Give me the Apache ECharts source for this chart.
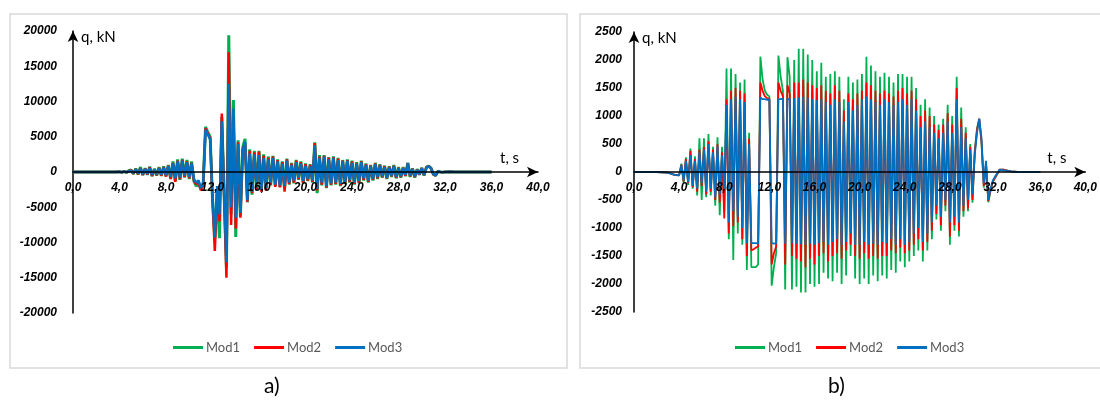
<!DOCTYPE html>
<html>
<head>
<meta charset="utf-8">
<script src="https://cdn.jsdelivr.net/npm/echarts@6/dist/echarts.min.js"></script>
<style>
  html, body { margin: 0; padding: 0; background: #fff; }
  #chart { width: 1100px; height: 403px; }
</style>
</head>
<body>
<div id="chart"></div>
<script>
// time, s (shared by both plots)
const times = [0, 1, 2, 3, 3.6,
  4.0, 4.2, 4.4, 4.6, 4.8,   5.0, 5.2, 5.4, 5.6, 5.8,
  6.0, 6.2, 6.4, 6.6, 6.8,   7.0, 7.2, 7.4, 7.6, 7.8,
  8.0, 8.2, 8.4, 8.6, 8.8,   9.0, 9.2, 9.4, 9.6, 9.8,
  10.0, 10.2, 10.4, 10.6, 10.8,   11.0, 11.2, 11.4, 11.6, 11.8,
  12.0, 12.2, 12.4, 12.6, 12.8,   13.0, 13.2, 13.4, 13.6, 13.8,
  14.0, 14.2, 14.4, 14.6, 14.8,   15.0, 15.2, 15.4, 15.6, 15.8,
  16.0, 16.2, 16.4, 16.6, 16.8,   17.0, 17.2, 17.4, 17.6, 17.8,
  18.0, 18.2, 18.4, 18.6, 18.8,   19.0, 19.2, 19.4, 19.6, 19.8,
  20.0, 20.2, 20.4, 20.6, 20.8,   21.0, 21.2, 21.4, 21.6, 21.8,
  22.0, 22.2, 22.4, 22.6, 22.8,   23.0, 23.2, 23.4, 23.6, 23.8,
  24.0, 24.2, 24.4, 24.6, 24.8,   25.0, 25.2, 25.4, 25.6, 25.8,
  26.0, 26.2, 26.4, 26.6, 26.8,   27.0, 27.2, 27.4, 27.6, 27.8,
  28.0, 28.2, 28.4, 28.6, 28.8,   29.0, 29.2, 29.4, 29.6, 29.8,
  30.0, 30.2, 30.4, 30.6, 30.8,   31.0, 31.2, 31.4, 31.6, 31.8,
  32.0,
  32.4, 32.8, 33.4, 34, 35, 36];

// plot a), q in kN
const aMod1 = [0, 0, 0, 0, 10,
  50, -60, 90, -70, 180,   300, -280, 500, -350, 700,
  -450, 550, -400, 750, -600,   450, -500, 700, -550, 800,
  -600, 1000, -950, 1500, -1300,   1800, -1100, 1900, -800, 1700,
  -1000, 1500, -1300, -2000, -1700,   -2400, -1600, 6400, 5600, 5000,
  -3800, -9500, -3000, -9400, 7800,   -3200, -13500, 19400, -6000, 10200,
  -9200, 4500, -6200, 3500, 4700,   -4300, 3200, -3200, 3000, -2600,
  3000, -2700, 2500, -2500, 2200,   -1900, 2300, -2000, 1800, -2100,
  1500, -2300, 1900, -1800, 1300,   -1600, 1700, -1100, 1500, -1600,
  1200, -1300, 1100, -1500, 4200,   -3000, 2400, -1900, 2400, -2300,
  2100, -1900, 2200, -1800, 2000,   -2000, 1700, -1700, 1800, -1500,
  1600, -1800, 1400, -1600, 1600,   -1200, 1200, -1500, 1000, -1200,
  1300, -1000, 1100, -800, 900,   -1000, 800, -700, 1000, -900,
  700, -800, 700, -600, 1300,   -700, 500, -800, 400, -400,
  600, -500, 700, 850, 550,   -350, -500, 100, 0, -50,
  0,
  30, 0, 0, 0, 0, 0];
const aMod2 = [0, 0, 0, 0, 10,
  40, -50, 80, -60, 150,   260, -250, 400, -300, 550,
  -400, 450, -350, 650, -550,   400, -450, 600, -500, 700,
  -650, 900, -1000, 1300, -1400,   1600, -1000, 1700, -700, 1500,
  -900, 1300, -1200, -1700, -1400,   -2600, -1800, 6200, 5500, 4800,
  -4000, -11200, -2500, -7000, 8300,   -3500, -15000, 17000, -7500, 7500,
  -8000, 4200, -6500, 3200, 4000,   -4200, 3000, -3000, 2800, -2500,
  2900, -2800, 2300, -2600, 2000,   -1800, 2200, -2100, 1700, -2200,
  1400, -2800, 1800, -1700, 1200,   -1500, 1600, -1000, 1400, -1500,
  1100, -1200, 1000, -1400, 4100,   -2600, 2200, -1800, 2300, -2200,
  2000, -1800, 2100, -1700, 1900,   -1900, 1600, -1600, 1700, -1400,
  1500, -1700, 1300, -1500, 1500,   -1100, 1100, -1400, 900, -1100,
  1200, -900, 1000, -700, 800,   -900, 700, -600, 900, -800,
  600, -700, 600, -500, 1250,   -600, 450, -700, 350, -350,
  550, -450, 650, 820, 520,   -320, -480, 100, 0, -50,
  0,
  30, 0, 0, 0, 0, 0];
const aMod3 = [0, 0, 0, 0, 10,
  30, -40, 60, -30, 100,   200, -150, 350, -200, 450,
  -300, 400, -250, 550, -400,   350, -300, 500, -350, 600,
  -450, 800, -700, 1200, -900,   1500, -800, 1600, -500, 1400,
  -700, 1200, -1000, -1500, -1200,   -2300, -1500, 6000, 5300, 4600,
  -3500, -9300, -2000, -6000, 7200,   -3000, -12800, 12500, -5000, 9000,
  -6500, 4000, -5800, 3000, 4300,   -4000, 2600, -2800, 2500, -2200,
  2400, -2500, 2000, -2300, 1800,   -1500, 2000, -1800, 1500, -1900,
  1200, -2000, 1600, -1500, 1000,   -1200, 1400, -800, 1200, -1300,
  900, -1000, 800, -1200, 3800,   -2400, 2000, -1500, 2200, -2000,
  1800, -1600, 2000, -1500, 1700,   -1700, 1500, -1400, 1600, -1200,
  1300, -1500, 1200, -1300, 1400,   -900, 1000, -1200, 800, -1000,
  1100, -700, 900, -600, 700,   -800, 600, -500, 800, -700,
  500, -600, 500, -400, 1200,   -500, 400, -600, 300, -300,
  500, -400, 600, 800, 500,   -300, -450, 100, 0, -50,
  0,
  30, 0, 0, 0, 0, 0];

// plot b), q in kN
const bMod1 = [0, 0, 0, -10, -50,
  -60, 150, -200, 260, -230,   420, -300, 280, -420, 600,
  -500, 600, -450, 680, -420,   450, -600, 620, -770, 450,
  -700, 1850, -1200, 1850, -1570,   1750, -1100, 1600, -1300, 1650,
  -1750, 700, -1700, -1700, -1700,   -1650, 2060, 1650, 1450, 1380,
  1350, -2030, -1700, -1450, 2080,   1700, 1450, -2100, 2050, 1700,
  -2100, 2000, -2050, 2200, -2150,   2200, -2150, 2100, -2000, 2000,
  -2050, 1800, -2000, 1950, -1800,   1700, -1900, 1750, -1950, 1800,
  -1800, 1700, -2000, 1300, -1850,   1700, -1500, 1600, -1900, 1650,
  -2000, 1750, -1900, 2060, -2000,   1900, -1850, 1800, -1950, 1700,
  -1850, 1770, -1900, 1700, -1750,   1600, -1800, 1750, -1600, 1750,
  -1700, 1700, -1600, 1700, -1500,   1500, -1400, 1200, -1600, 1300,
  -1400, 1150, -1200, 1000, -850,   850, -1050, 950, -700, 1200,
  -1300, 1000, -1050, 1700, -1150,   1150, -800, 800, -700, 500,
  -550, 380, 780, 950, 500,   -280, 120, -540, -340, -180,
  -110,
  40, 40, 10, 0, 0, 0];
const bMod2 = [0, 0, 0, -10, -50,
  -60, 130, -170, 230, -200,   380, -270, 230, -350, 400,
  -250, 450, -400, 550, -350,   400, -500, 500, -550, 350,
  -830, 1300, -1100, 1450, -970,   1500, -900, 1450, -1200, 1400,
  -1500, 600, -1400, -1380, -1350,   -1330, 1600, 1450, 1350, 1320,
  1310, -1650, -1450, -1330, 1600,   1450, 1350, -1650, 1550, 1400,
  -1500, 1600, -1550, 1600, -1600,   1650, -1700, 1600, -1550, 1550,
  -1650, 1500, -1500, 1550, -1450,   1450, -1600, 1400, -1500, 1550,
  -1450, 1450, -1550, 1100, -1400,   1400, -1300, 1300, -1500, 1400,
  -1550, 1450, -1450, 1600, -1550,   1550, -1500, 1450, -1550, 1400,
  -1500, 1450, -1500, 1400, -1400,   1350, -1450, 1450, -1350, 1500,
  -1450, 1400, -1400, 1450, -1300,   1300, -1200, 1000, -1400, 1100,
  -1250, 1000, -1050, 850, -750,   750, -950, 850, -600, 1050,
  -1150, 850, -950, 1500, -1050,   950, -700, 700, -650, 450,
  -500, 350, 750, 950, 550,   -250, 150, -520, -320, -170,
  -100,
  40, 40, 10, 0, 0, 0];
const bMod3 = [0, 0, 0, -10, -50,
  -60, 120, -150, 200, -180,   300, -250, 200, -300, 350,
  -200, 400, -350, 500, -300,   350, -450, 450, -400, 300,
  -300, 1200, -900, 1300, -700,   1350, -800, 1300, -1000, 1250,
  -1270, 500, -1270, -1270, -1270,   -1280, 1330, 1300, 1300, 1290,
  1300, -1270, -1280, -1270, 1300,   1300, 1310, -1280, 1300, 1300,
  -1270, 1320, -1280, 1330, -1290,   1350, -1300, 1330, -1280, 1300,
  -1300, 1280, -1270, 1300, -1250,   1250, -1300, 1200, -1250, 1300,
  -1200, 1250, -1300, 900, -1250,   1250, -1100, 1100, -1300, 1200,
  -1300, 1300, -1250, 1350, -1300,   1300, -1280, 1250, -1300, 1200,
  -1250, 1300, -1270, 1250, -1200,   1200, -1300, 1250, -1200, 1300,
  -1300, 1200, -1250, 1300, -1100,   1100, -1000, 800, -1250, 900,
  -1100, 800, -900, 700, -600,   600, -800, 700, -500, 900,
  -900, 700, -800, 1300, -900,   800, -600, 600, -500, 400,
  -400, 300, 700, 950, 600,   -200, 200, -500, -300, -150,
  -80,
  40, 30, 10, 0, 0, 0];

const names = ['Mod1', 'Mod2', 'Mod3'];
const colors = ['#00B050', '#FF0000', '#0070C0'];
const xTicks = { min: 0, max: 40, interval: 4 };

function pairs(vals) {
  return times.map((t, i) => [t, vals[i]]);
}

const chart = echarts.init(document.getElementById('chart'));

const tickFont = { fontFamily: 'Liberation Sans', fontSize: 12, fontWeight: 'bold', fontStyle: 'italic', color: '#000' };

// x axis is pulled up to the q = 0 line together with its labels,
// and kept above the curves like in the source
function xAxisFor(gridIndex, halfHeight) {
  return {
    gridIndex: gridIndex,
    type: 'value',
    z: 10,
    min: xTicks.min, max: xTicks.max, interval: xTicks.interval,
    offset: -halfHeight,
    name: 't, s',
    nameLocation: 'end',
    nameGap: -38,
    nameTextStyle: { fontFamily: 'Lato', fontSize: 15, color: '#000', align: 'left', verticalAlign: 'bottom', padding: [0, 0, 6, 0] },
    axisLine: { show: true, onZero: false, symbol: ['none', 'arrow'], symbolSize: [8, 11], lineStyle: { color: '#000', width: 1.5 } },
    axisTick: { show: false },
    splitLine: { show: false },
    axisLabel: Object.assign({ margin: 10, formatter: v => v.toFixed(1).replace('.', ',') }, tickFont)
  };
}

function yAxisFor(gridIndex, lim, step, margin) {
  return {
    gridIndex: gridIndex,
    type: 'value',
    min: -lim, max: lim, interval: step,
    name: 'q, kN',
    nameLocation: 'end',
    nameGap: -6,
    nameTextStyle: { fontFamily: 'Lato', fontSize: 15, color: '#000', align: 'left', verticalAlign: 'middle', padding: [0, 0, 0, 8] },
    axisLine: { show: true, onZero: false, symbol: ['none', 'arrow'], symbolSize: [8, 11], lineStyle: { color: '#000', width: 1.5 } },
    axisTick: { show: false },
    splitLine: { show: false },
    axisLabel: Object.assign({ margin: margin, formatter: v => String(v) }, tickFont)
  };
}

let seriesCount = 0;
function seriesFor(idx, vals, width) {
  const g = Math.floor(seriesCount++ / 3);
  return {
    name: names[idx],
    type: 'line',
    xAxisIndex: g,
    yAxisIndex: g,
    data: pairs(vals),
    showSymbol: false,
    symbol: 'none',
    color: colors[idx],
    lineStyle: { color: colors[idx], width: width },
    z: 2 + idx
  };
}

function legendFor(left) {
  return {
    left: left, top: 336,
    itemWidth: 30, itemHeight: 3, itemGap: 14,
    icon: 'rect',
    textStyle: { fontFamily: 'Lato', fontSize: 13, color: '#595959', padding: [0, 0, 0, -2] },
    data: names
  };
}

chart.setOption({
  animation: false,
  backgroundColor: '#fff',
  grid: [
    { left: 73, top: 31, width: 465, height: 282 },
    { left: 634, top: 32, width: 453, height: 280 }
  ],
  xAxis: [xAxisFor(0, 141), xAxisFor(1, 140)],
  yAxis: [yAxisFor(0, 20000, 5000, 16), yAxisFor(1, 2500, 500, 12)],
  legend: [legendFor(168), legendFor(730)],
  series: [
    seriesFor(0, aMod1, 3),
    seriesFor(1, aMod2, 2.5),
    seriesFor(2, aMod3, 2.5),
    seriesFor(0, bMod1, 1.8),
    seriesFor(1, bMod2, 1.8),
    seriesFor(2, bMod3, 1.8)
  ],
  graphic: [
    { type: 'rect', shape: { x: 10, y: 14, width: 557, height: 354 }, style: { fill: 'none', stroke: '#D9D9D9', lineWidth: 1.5 }, silent: true },
    { type: 'rect', shape: { x: 580, y: 14, width: 525, height: 354 }, style: { fill: 'none', stroke: '#D9D9D9', lineWidth: 1.5 }, silent: true },
    { type: 'text', left: 264, top: 376, style: { text: 'a)', fontFamily: 'Lato', fontSize: 21, fill: '#000' } },
    { type: 'text', left: 828, top: 376, style: { text: 'b)', fontFamily: 'Lato', fontSize: 21, fill: '#000' } }
  ]
});
</script>
</body>
</html>
